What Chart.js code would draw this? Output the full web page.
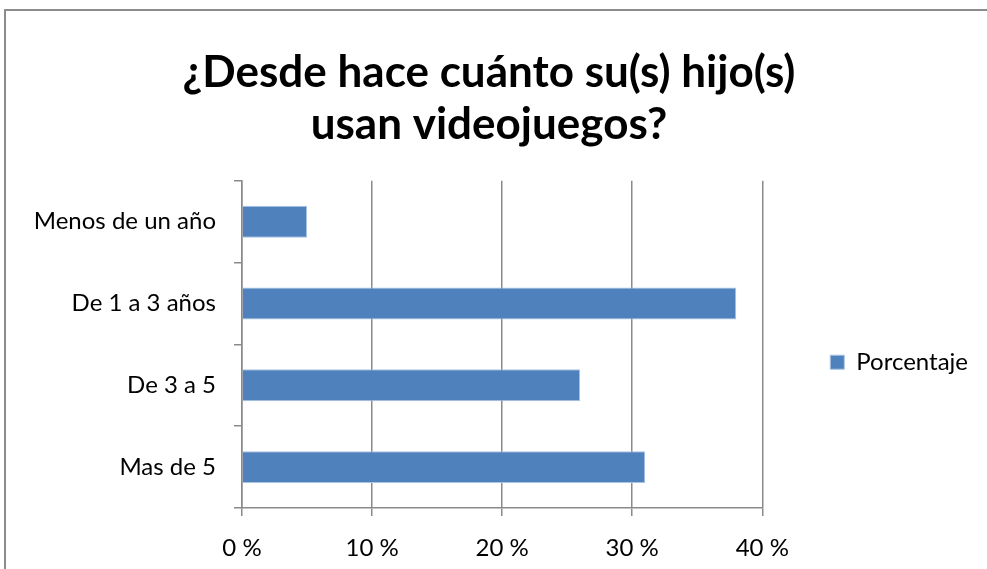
<!DOCTYPE html>
<html>
<head>
<meta charset="utf-8">
<script src="https://cdn.jsdelivr.net/npm/chart.js@4/dist/chart.umd.min.js"></script>
<style>
  html, body { margin: 0; padding: 0; background: #fff; overflow: hidden; }
  #wrap { position: relative; width: 987px; height: 569px; }
  #frame { position: absolute; left: 4px; top: 9px; width: 1000px; height: 600px;
           border: 2px solid #8c8c8c; pointer-events: none; }
</style>
</head>
<body>
<div id="wrap">
  <canvas id="chart" width="987" height="569"></canvas>
  <div id="frame"></div>
</div>
<script>
// Datos del gráfico
const categorias = ['Menos de un año', 'De 1 a 3 años', 'De 3 a 5', 'Mas de 5'];
const porcentaje = [5, 38, 26, 31];
const ticksX = [0, 10, 20, 30, 40];
const titulo = ['¿Desde hace cuánto su(s) hijo(s)', 'usan videojuegos?'];

const gris = '#8a8a8a';
Chart.defaults.font.family = 'Lato, "Open Sans", sans-serif';
Chart.defaults.color = '#000';

const ctx = document.getElementById('chart');

new Chart(ctx, {
  type: 'bar',
  data: {
    labels: categorias,
    datasets: [{
      label: 'Porcentaje',
      data: porcentaje,
      backgroundColor: '#4f81bd',
      borderColor: '#a9c3e3',
      borderWidth: 1,
      barPercentage: 0.39,
      categoryPercentage: 1
    }]
  },
  options: {
    indexAxis: 'y',
    responsive: false,
    animation: false,
    layout: { padding: { left: 0, right: 9, top: 0, bottom: 0 } },
    plugins: {
      title: {
        display: true,
        text: titulo,
        font: { size: 44, weight: 'bold', lineHeight: 1.18 },
        padding: { top: 47, bottom: 30 },
        color: '#000'
      },
      legend: {
        display: true,
        position: 'right',
        // titulo vacío: solo baja la leyenda
        title: { display: true, text: ' ', padding: { top: 141, bottom: 0 } },
        labels: {
          boxWidth: 14,
          boxHeight: 14,
          padding: 10,
          font: { size: 24 },
          color: '#000'
        }
      },
      tooltip: { enabled: false }
    },
    scales: {
      x: {
        min: ticksX[0],
        max: ticksX[ticksX.length - 1],
        ticks: {
          stepSize: ticksX[1] - ticksX[0],
          padding: 18,
          font: { size: 24 },
          callback: v => v + ' %'
        },
        grid: { color: gris, lineWidth: 1.5, tickLength: 8 },
        border: { color: gris, width: 1.5 },
        afterFit: s => { s.height = 61; }
      },
      y: {
        ticks: { padding: 18, font: { size: 24 } },
        grid: { drawOnChartArea: false, color: gris, lineWidth: 1.5, tickLength: 8 },
        border: { color: gris, width: 1.5 },
        afterFit: s => { s.width = 242; }
      },
      // eje vacío a la derecha: deja el hueco entre el gráfico y la leyenda
      hueco: {
        axis: 'y',
        type: 'category',
        position: 'right',
        ticks: { display: false },
        grid: { display: false },
        border: { display: false },
        afterFit: s => { s.width = 58; }
      }
    }
  }
});
</script>
</body>
</html>
